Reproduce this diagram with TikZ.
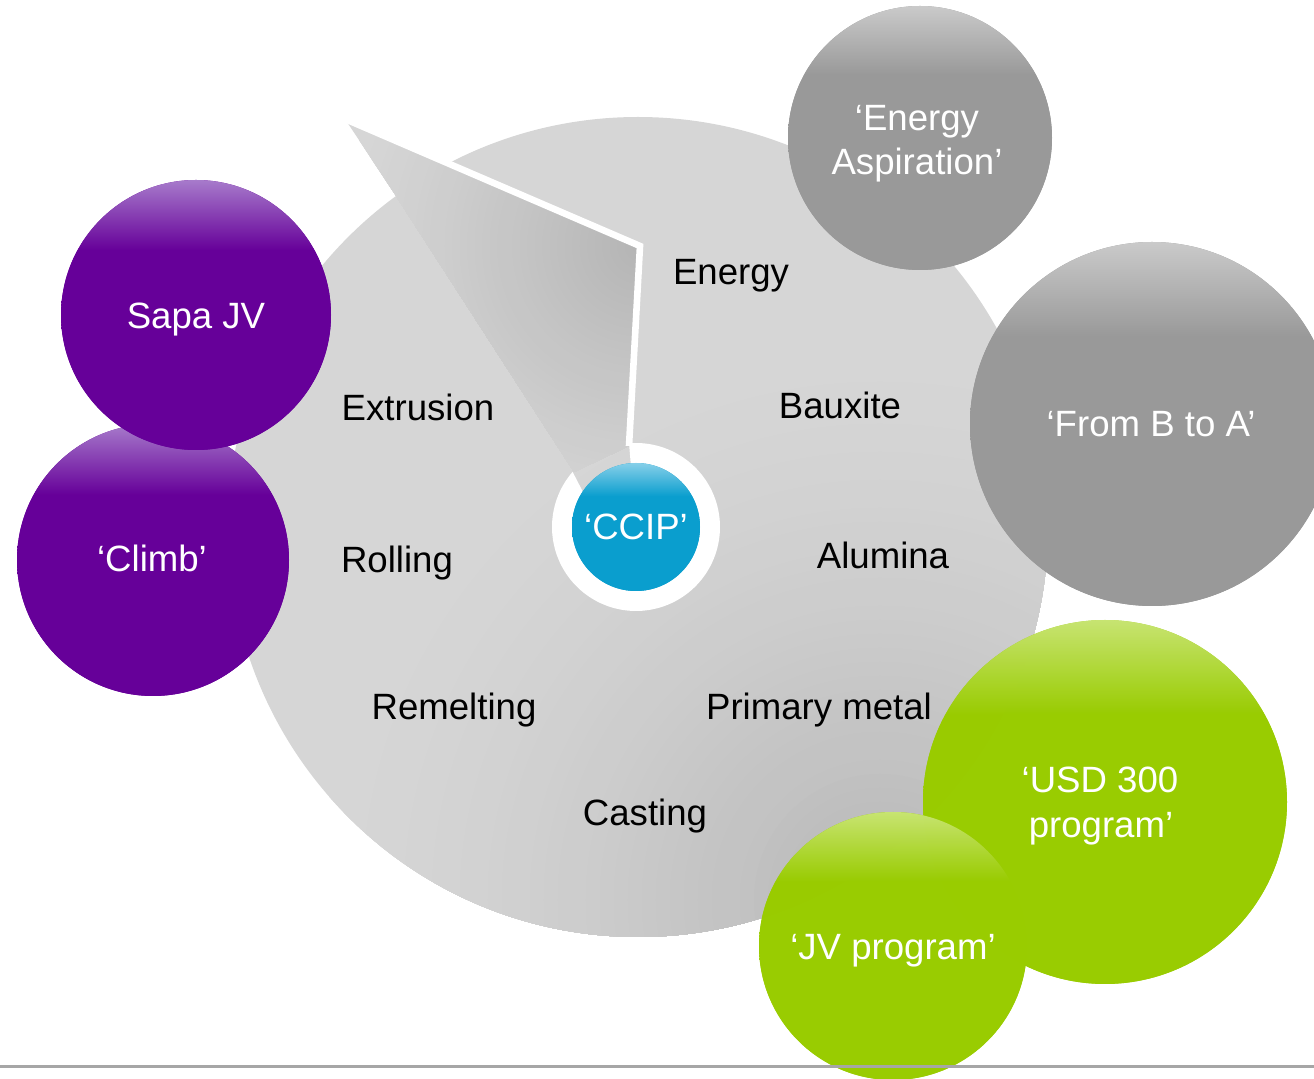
\documentclass[tikz,border=0pt]{standalone}
\usepackage{fontspec}
\setmainfont{Liberation Sans}
\usetikzlibrary{calc}
\definecolor{hubGrey}{HTML}{D6D6D6}
\definecolor{hubDark}{HTML}{B6B6B6}
\definecolor{wedgeDark}{HTML}{B4B4B4}
\definecolor{purpleC}{HTML}{660099}
\definecolor{purpleL}{HTML}{A77BCB}
\definecolor{greyC}{HTML}{999999}
\definecolor{greyL}{HTML}{CACACA}
\definecolor{greenC}{HTML}{99CC00}
\definecolor{greenL}{HTML}{CBE679}
\definecolor{blueC}{HTML}{0A9ECE}
\definecolor{blueL}{HTML}{86CFE9}
\definecolor{ruleGrey}{HTML}{A6A6A6}
\colorlet{bubtop}{white}
\colorlet{bubbase}{black}
\pgfdeclareverticalshading[bubtop,bubbase]{bubbleshade}{100bp}{%
  color(0bp)=(bubbase); color(62bp)=(bubbase); color(75bp)=(bubtop); color(100bp)=(bubtop)}
\tikzset{
  bubble/.style n args={3}{circle, inner sep=0pt, minimum size=#1, fill=#2,
    path picture={\colorlet{bubtop}{#3}\colorlet{bubbase}{#2}%
      \shade[shading=bubbleshade]
      (path picture bounding box.south west) rectangle (path picture bounding box.north east);}},
  hubc/.style={circle, inner sep=0pt, minimum size=410pt, fill=hubGrey},
  lbl/.style={font=\fontsize{18.3}{22}\selectfont, anchor=base, inner sep=0pt, text=black},
  wlbl/.style={lbl, text=white},
  translucent/.style={fill opacity=#1}
}
\begin{document}
\begin{tikzpicture}[x=0.5pt,y=-0.5pt]
\useasboundingbox (0,0) rectangle (1314,1079);

% central grey disc with soft darkening towards the lower right
\node[hubc] (hub) at (638,527) {};
\coordinate (hubSh) at (880,900);
\begin{scope}
  \clip (hub.center) circle[radius=205pt];
  \foreach \i in {0,...,39}{
    \pgfmathsetmacro\rr{280*(1-\i/40)}
    \pgfmathtruncatemacro\pp{100*(\i/40)^1.5}
    \fill[hubDark!\pp!hubGrey] (hubSh) circle[radius=\rr pt];
  }
\end{scope}

% callout wedge
\coordinate (wA) at (345,119);
\coordinate (wB) at (640,246);
\coordinate (wC) at (629,446);
\coordinate (wD) at (574,472);
\coordinate (wE) at (396,196);
\begin{scope}
  \clip (wA) -- (wB) -- (wC) -- (wD) -- (wE) -- cycle;
  \fill[hubGrey] (wA) -- (wB) -- (wC) -- (wD) -- (wE) -- cycle;
  \foreach \i in {0,...,39}{
    \pgfmathsetmacro\rr{150*(1-\i/40)}
    \pgfmathtruncatemacro\pp{100*(\i/40)^1.2}
    \fill[wedgeDark!\pp!hubGrey] (wB) circle[radius=\rr pt];
  }
\end{scope}
\draw[white, line width=3.3pt, line join=miter] (wA) -- (wB) -- (wC);

% white ring round CCIP
\fill[white] (629,443) -- plot[domain=-94:221, samples=120]
  ({636+84*cos(\x)},{527+84*sin(\x)}) -- (583,492) -- (636,527) -- cycle;
\node[bubble={64pt}{blueC}{blueL}] (ccip) at (636,527) {};
\node[wlbl] (tccip) at (636,540) {‘CCIP’};

% value-chain labels
\node[lbl] (tenergy) at (731,285) {Energy};
\node[lbl] (textr) at (418,421) {Extrusion};
\node[lbl] (tbaux) at (840,419) {Bauxite};
\node[lbl] (troll) at (397,573) {Rolling};
\node[lbl] (talum) at (883,569) {Alumina};
\node[lbl] (tremelt) at (454,720) {Remelting};
\node[lbl] (tprim) at (819,720) {Primary metal};
\node[lbl] (tcast) at (645,826) {Casting};

% grey bubbles
\node[bubble={132pt}{greyC}{greyL}] (easp) at (920,138) {};
\node[wlbl] (teasp1) at (917,131) {‘Energy};
\node[wlbl] (teasp2) at (917,175) {Aspiration’};
\node[bubble={182pt}{greyC}{greyL}] (btoa) at (1152,424) {};
\node[wlbl] (tbtoa) at (1151,437) {‘From B to A’};

% purple bubbles
\node[bubble={136pt}{purpleC}{purpleL}] (climb) at (153,560) {};
\node[bubble={135pt}{purpleC}{purpleL}] (sapa) at (196,315) {};
\node[wlbl] (tclimb) at (152,572) {‘Climb’};
\node[wlbl] (tsapa) at (196,329) {Sapa JV};

% green bubbles
\node[bubble={182pt}{greenC}{greenL}, translucent=0.93] (usd) at (1105,802) {};
\node[bubble={134pt}{greenC}{greenL}, translucent=0.93] (jv) at (893,946) {};
\node[wlbl] (tusd1) at (1100,793) {‘USD 300};
\node[wlbl] (tusd2) at (1101,838) {program’};
\node[wlbl] (tjv) at (893,960) {‘JV program’};

% bottom rule
\coordinate (ruleL) at (0,1067);
\coordinate (ruleR) at (1314,1067);
\draw[ruleGrey, line width=1.5pt] (ruleL) -- (ruleR);
\end{tikzpicture}
\end{document}
